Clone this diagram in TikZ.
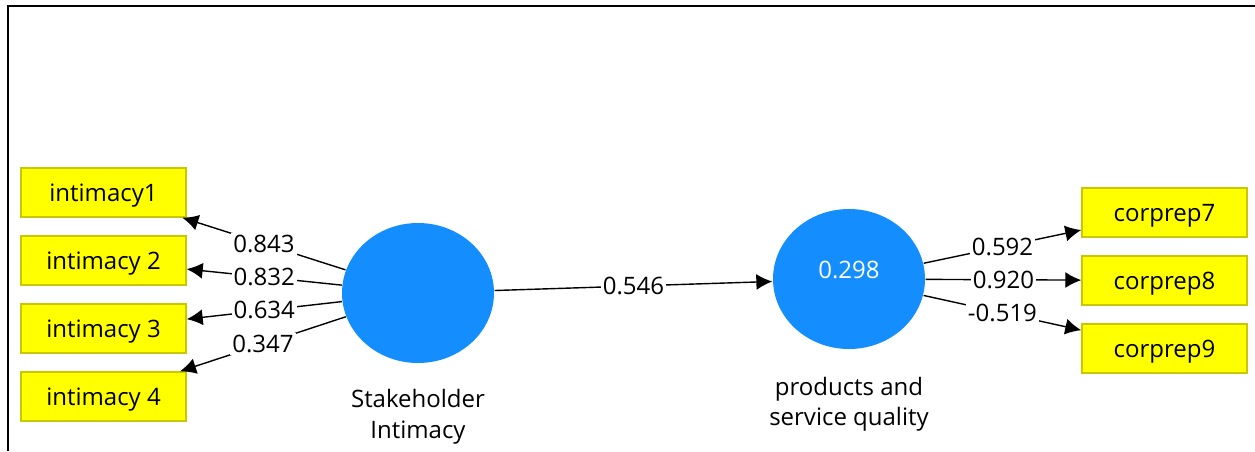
\documentclass[tikz,border=0pt]{standalone}
\usepackage{fontspec}
\setmainfont{Open Sans}
\usetikzlibrary{shapes, arrows.meta, positioning}
\definecolor{plsblue}{RGB}{20,142,255}
\definecolor{plsyellow}{RGB}{255,255,0}
\definecolor{boxedge}{RGB}{200,200,0}
\tikzstyle{indicator} = [draw=boxedge, fill=plsyellow, rectangle, minimum width=82.5pt, minimum height=24.5pt, text depth=0pt, font=\fontsize{12}{14}\selectfont]
\tikzstyle{construct} = [fill=plsblue, ellipse, minimum width=76pt, minimum height=70pt, inner sep=0pt]
\tikzstyle{weight} = [fill=white, inner sep=1pt, font=\fontsize{12}{14}\selectfont]

\begin{document}
\begin{tikzpicture}[x=0.5pt,y=-0.5pt,node distance=34pt,>={Latex[length=8pt,width=8pt]},line width=0.7pt]
    \useasboundingbox (0,0) rectangle (1255,451);
    \draw[line width=1.2pt] (8,451) -- (8,6) -- (1255,6);
    \node[construct] (si) at (418,293) {};
    \node[construct] (psq) at (849,279) {};
    \node[text=white, font=\fontsize{12}{14}\selectfont] (r2) at (849,270) {0.298};
    \node[below=9pt of si, align=center, font=\fontsize{12}{15.5}\selectfont] (silabel) {Stakeholder\\Intimacy};
    \node[below=10pt of psq, align=center, font=\fontsize{12}{15}\selectfont] (psqlabel) {products and\\service quality};
    \node[indicator] (int1) at (103.5,192.5) {intimacy1};
    \node[indicator, below of=int1] (int2) {intimacy 2};
    \node[indicator, below of=int2] (int3) {intimacy 3};
    \node[indicator, below of=int3] (int4) {intimacy 4};
    \node[indicator] (cp7) at (1164.5,212.5) {corprep7};
    \node[indicator, below of=cp7] (cp8) {corprep8};
    \node[indicator, below of=cp8] (cp9) {corprep9};
    \draw[->] (si) -- node[weight] {0.843} (int1);
    \draw[->] (si) -- node[weight] {0.832} (int2);
    \draw[->] (si) -- node[weight] {0.634} (int3);
    \draw[->] (si) -- node[weight] {0.347} (int4);
    \draw[->] (si) -- node[weight] {0.546} (psq);
    \draw[->] (psq) -- node[weight] {0.592} (cp7);
    \draw[->] (psq) -- node[weight] {0.920} (cp8);
    \draw[->] (psq) -- node[weight] {-0.519} (cp9);
\end{tikzpicture}
\end{document}
